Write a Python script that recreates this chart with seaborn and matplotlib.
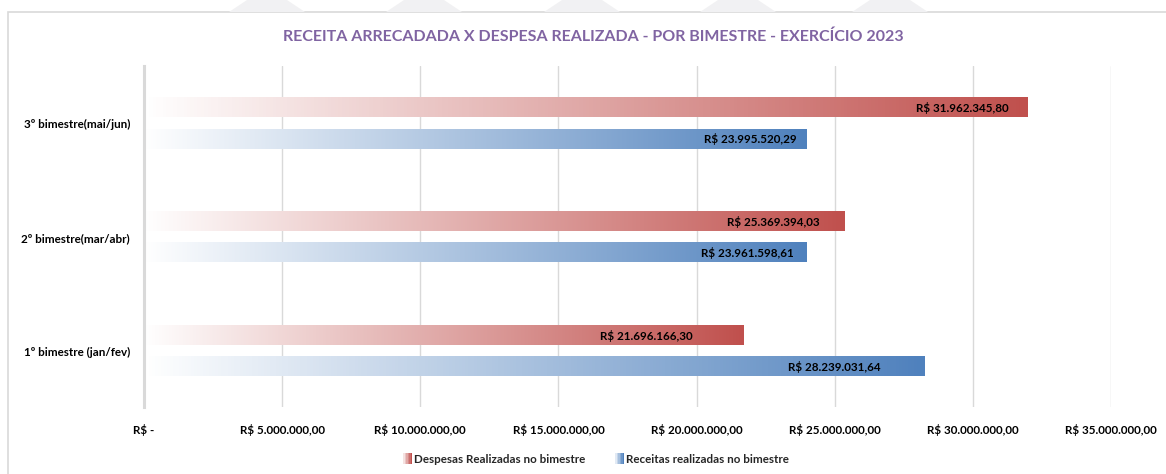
import numpy as np
import pandas as pd
import matplotlib
matplotlib.use('Agg')
import matplotlib.pyplot as plt
import seaborn as sns
from matplotlib.colors import LinearSegmentedColormap, to_rgb
from matplotlib.legend_handler import HandlerBase
from matplotlib.patches import Rectangle, Polygon

# dados
periodos = ['3º bimestre(mai/jun)', '2º bimestre(mar/abr)', '1º bimestre (jan/fev)']
despesas = [31962345.80, 25369394.03, 21696166.30]
receitas = [23995520.29, 23961598.61, 28239031.64]
series = ['Despesas Realizadas no bimestre', 'Receitas realizadas no bimestre']
x_ticks = [0, 5e6, 10e6, 15e6, 20e6, 25e6, 30e6, 35e6]

cores = ['#C0504D', '#4F81BD']
# deslocamento (px) da borda direita do rotulo em relacao ao fim da barra
desloc_rotulos = [[-18, -25, -51], [-10, -12, -44]]


def reais(v):
    if v == 0:
        return 'R$ -'
    s = f'{v:,.2f}'.replace(',', '#').replace('.', ',').replace('#', '.')
    return f'R$ {s}'


df = pd.DataFrame({
    'periodo': periodos * 2,
    'valor': despesas + receitas,
    'serie': [series[0]] * 3 + [series[1]] * 3,
})

sns.set_theme(style='white')
plt.rcParams['font.family'] = ['Lato', 'DejaVu Sans']

fig = plt.figure(figsize=(11.66, 4.74), dpi=100)

# moldura e marca d'agua no topo
fig.patches.append(Rectangle((8 / 1166, -0.01), 1.02, (474 - 12) / 474 + 0.01,
                             transform=fig.transFigure, facecolor='none',
                             edgecolor='#D9D9D9', linewidth=1.2, zorder=-2))
for cx in [267, 424, 582, 738, 890]:
    pts = [(cx - 20, 474), (cx + 20, 474), (cx + 38, 462), (cx - 38, 462)]
    fig.patches.append(Polygon([(x / 1166, y / 474) for x, y in pts],
                               transform=fig.transFigure, facecolor='#F1F1F3',
                               edgecolor='none', zorder=-2))

ax = fig.add_axes([144 / 1166, 67 / 474, 967 / 1166, 341 / 474])
ax.set_facecolor('none')

sns.barplot(data=df, y='periodo', x='valor', hue='serie', orient='h',
            hue_order=series, order=periodos, palette=cores,
            width=0.546, gap=0.388, legend=False, ax=ax)

# preenchimento em degrade (branco -> cor)
grad = np.linspace(0, 1, 256)[None, :]
for cont, cor, desl in zip(ax.containers, cores, desloc_rotulos):
    cmap = LinearSegmentedColormap.from_list('g', ['#FFFFFF', cor])
    for patch, d in zip(cont.patches, desl):
        x0, y0 = patch.get_x(), patch.get_y()
        w, h = patch.get_width(), patch.get_height()
        ax.imshow(grad, cmap=cmap, aspect='auto', interpolation='bilinear',
                  extent=(x0, x0 + w, y0 + h, y0), zorder=2)
        patch.set_visible(False)
        ax.annotate(reais(w), xy=(x0 + w, y0 + h / 2), xytext=(d, 0),
                    textcoords='offset pixels', ha='right', va='center',
                    fontsize=8.4, fontweight='bold', color='black', zorder=3)

ax.set_xlim(0, 35e6)
ax.set_ylim(2.49, -0.505)
ax.set_xticks(x_ticks)
ax.set_xticklabels([reais(v) for v in x_ticks], fontsize=8.4, fontweight='bold')
ax.set_yticks(range(len(periodos)))
ax.set_yticklabels(periodos, fontsize=8.4, fontweight='bold')
ax.tick_params(axis='x', length=0, pad=12, colors='black')
ax.tick_params(axis='y', length=0, pad=10, colors='black')
ax.set_xlabel('')
ax.set_ylabel('')
ax.grid(axis='x', color='#D9D9D9', linewidth=1.0, zorder=0)
ax.set_axisbelow(True)
for lado in ['top', 'right', 'bottom']:
    ax.spines[lado].set_visible(False)
ax.spines['left'].set_color('#D9D9D9')
ax.spines['left'].set_linewidth(2.2)

fig.text(593 / 1166, 1 - 37 / 474,
         'RECEITA ARRECADADA X DESPESA REALIZADA - POR BIMESTRE - EXERCÍCIO 2023',
         ha='center', va='center', fontsize=11.5, fontweight='bold', color='#8064A2')


class HandlerGradiente(HandlerBase):
    def __init__(self, cor):
        super().__init__()
        self.cor = np.array(to_rgb(cor))

    def create_artists(self, legend, orig_handle, xdescent, ydescent,
                       width, height, fontsize, trans):
        n = 6
        arts = []
        for i in range(n):
            t = (i + 1) / n
            c = (1 - t) * np.ones(3) + t * self.cor
            arts.append(Rectangle((-xdescent + width * i / n, -ydescent),
                                  width / n, height, facecolor=c,
                                  edgecolor='none', transform=trans))
        return arts


handles = [Rectangle((0, 0), 1, 1) for _ in series]
fig.legend(handles, series, loc='center', bbox_to_anchor=(596 / 1166, 1 - 459 / 474),
           ncol=2, frameon=False, handlelength=0.75, handleheight=1.0,
           handletextpad=0.15, columnspacing=2.6,
           prop={'size': 8.4, 'weight': 'bold'},
           handler_map={h: HandlerGradiente(c) for h, c in zip(handles, cores)})

fig.savefig('out.png', dpi=100)
